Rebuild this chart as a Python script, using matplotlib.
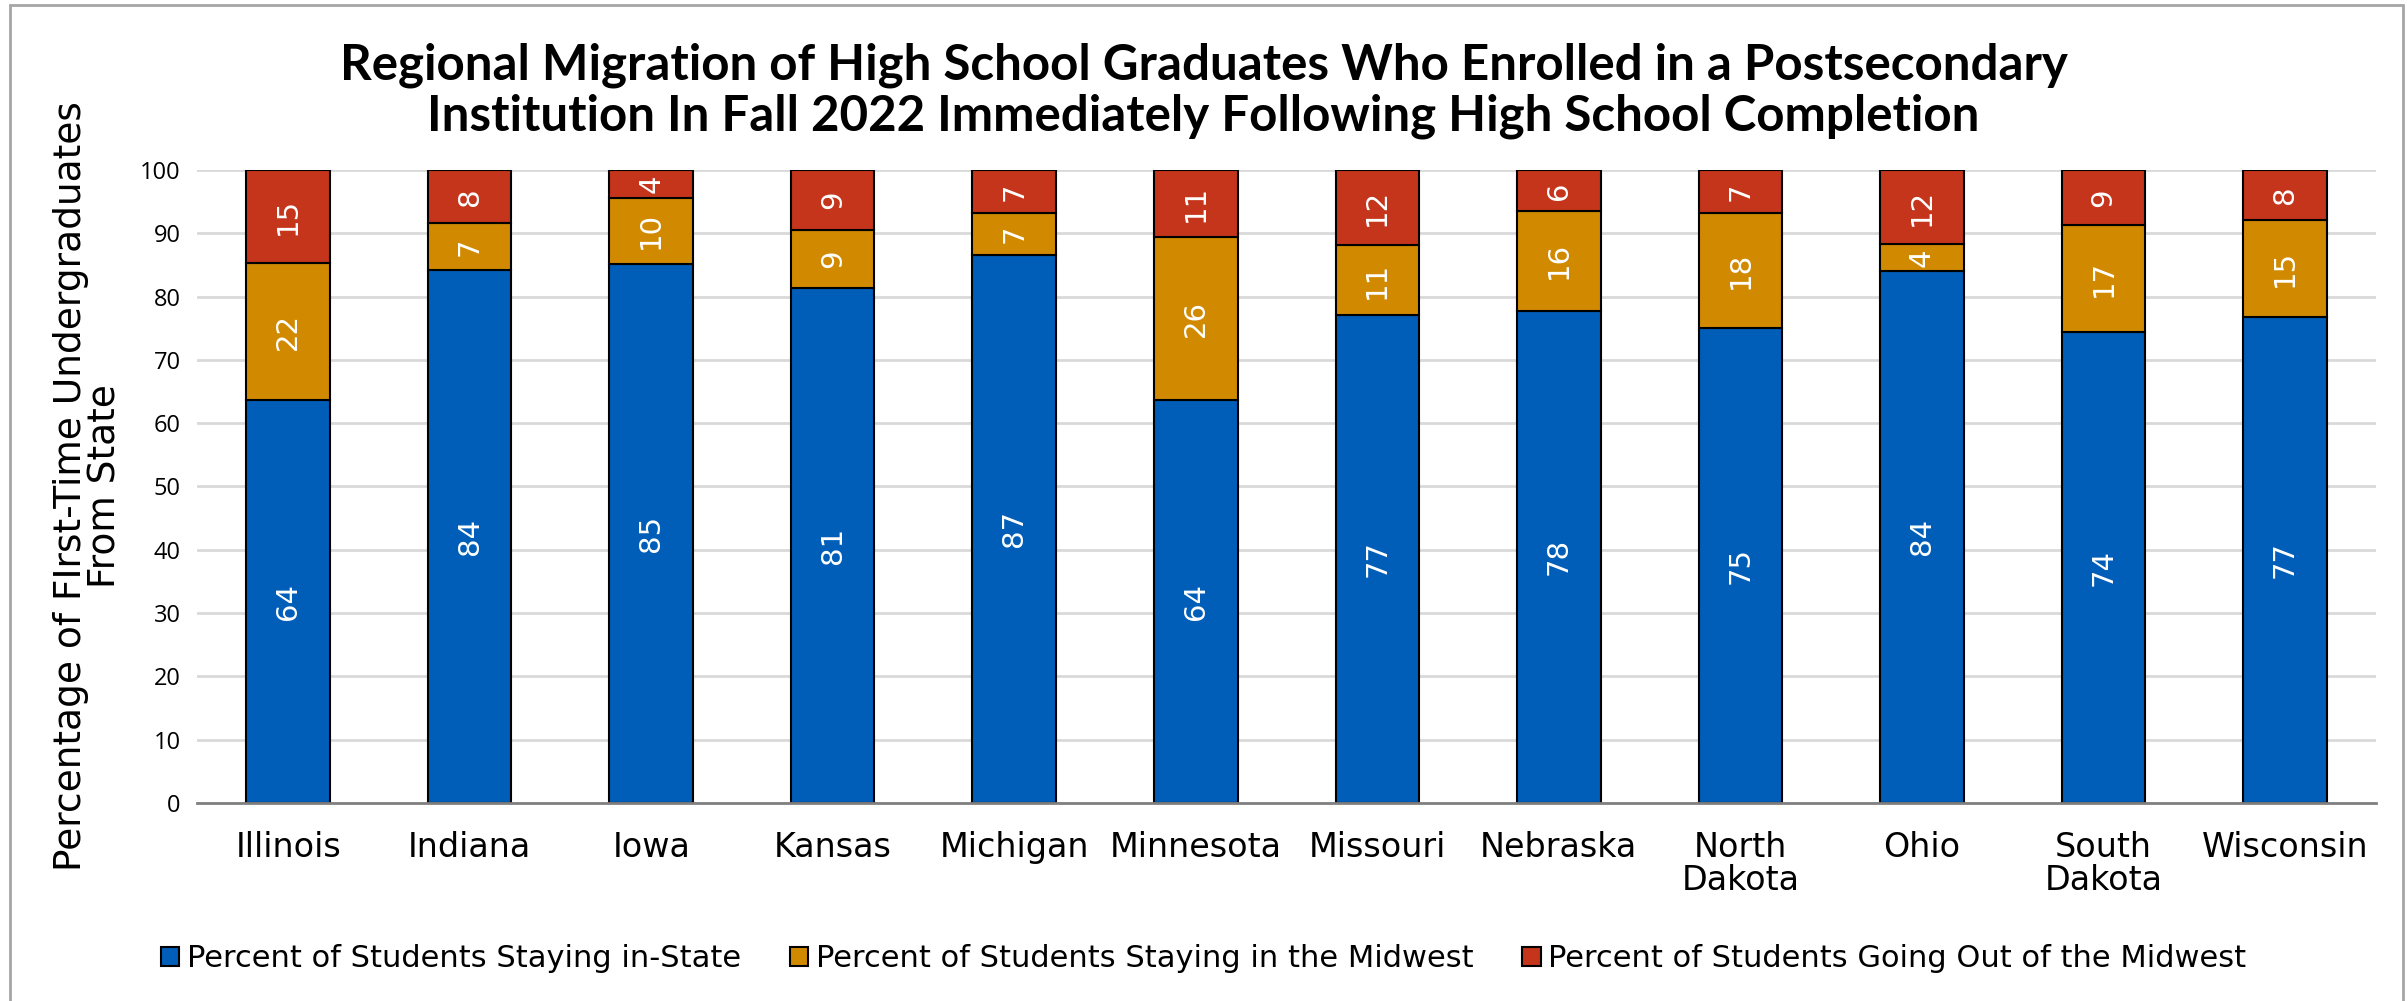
import numpy as np
import matplotlib
matplotlib.use("Agg")
import matplotlib.pyplot as plt
from matplotlib.patches import Rectangle

plt.rcParams['font.family'] = ['DejaVu Sans']

states = ['Illinois', 'Indiana', 'Iowa', 'Kansas', 'Michigan', 'Minnesota', 'Missouri',
          'Nebraska', 'North\nDakota', 'Ohio', 'South\nDakota', 'Wisconsin']
in_state = [63.6, 84.2, 85.2, 81.3, 86.6, 63.6, 77.1, 77.8, 75.0, 84.1, 74.4, 76.8]
midwest = [21.7, 7.4, 10.4, 9.3, 6.6, 25.8, 11.1, 15.8, 18.2, 4.2, 16.9, 15.4]
out_midwest = [14.7, 8.4, 4.4, 9.4, 6.8, 10.6, 11.8, 6.4, 6.8, 11.7, 8.7, 7.8]

labels = ['Percent of Students Staying in-State',
          'Percent of Students Staying in the Midwest',
          'Percent of Students Going Out of the Midwest']
colors = ['#005EB8', '#D18A00', '#C4351C']

fig = plt.figure(figsize=(24.07, 10.01), dpi=100)
ax = fig.add_axes([0.082, 0.198, 0.905, 0.632])

x = np.arange(len(states))
width = 0.46
bottom = np.zeros(len(states))
for vals, col, lab in zip([in_state, midwest, out_midwest], colors, labels):
    vals = np.array(vals)
    ax.bar(x, vals, width=width, bottom=bottom, color=col, edgecolor='black',
           linewidth=1.5, label=lab, zorder=3)
    for xi, b, v in zip(x, bottom, vals):
        ax.text(xi, b + v / 2, '%.0f' % v, rotation=90, ha='center', va='center',
                color='white', fontsize=21, zorder=4)
    bottom += vals

ax.set_xlim(-0.5, len(states) - 0.5)
ax.set_ylim(0, 100)
ax.set_yticks(np.arange(0, 101, 10))
ax.yaxis.grid(True, color='#D9D9D9', linewidth=2, zorder=0)
ax.set_axisbelow(True)
for s in ['top', 'right', 'left']:
    ax.spines[s].set_visible(False)
ax.spines['bottom'].set_color('#808080')
ax.spines['bottom'].set_linewidth(2)
ax.spines['bottom'].set_zorder(5)
ax.tick_params(axis='both', length=0)
ax.tick_params(axis='x', pad=20, labelsize=24)
ax.tick_params(axis='y', pad=12)
ax.set_xticks(x)
ax.set_xticklabels(states, linespacing=1.0)
for t in ax.get_yticklabels():
    t.set_family('Open Sans')
    t.set_fontsize(17)

ax.set_ylabel('Percentage of FIrst-Time Undergraduates\nFrom State', fontsize=27,
              linespacing=0.95, labelpad=12)

fig.text(0.5, 0.958, 'Regional Migration of High School Graduates Who Enrolled in a Postsecondary\n'
         'Institution In Fall 2022 Immediately Following High School Completion',
         ha='center', va='top', fontsize=35.5, fontweight='bold', family='Lato',
         linespacing=1.15)

fig.legend(loc='center', bbox_to_anchor=(0.5, 0.042), ncol=3, frameon=False, fontsize=22,
           handlelength=0.6, handleheight=0.6, handletextpad=0.25, columnspacing=1.6)

fig.patches.append(Rectangle((10 / 2407, -0.01), 2393 / 2407, 1 - 5 / 1001 + 0.01,
                             transform=fig.transFigure, fill=False, edgecolor='#A6A6A6',
                             linewidth=2))

fig.savefig('out.png', dpi=100)
